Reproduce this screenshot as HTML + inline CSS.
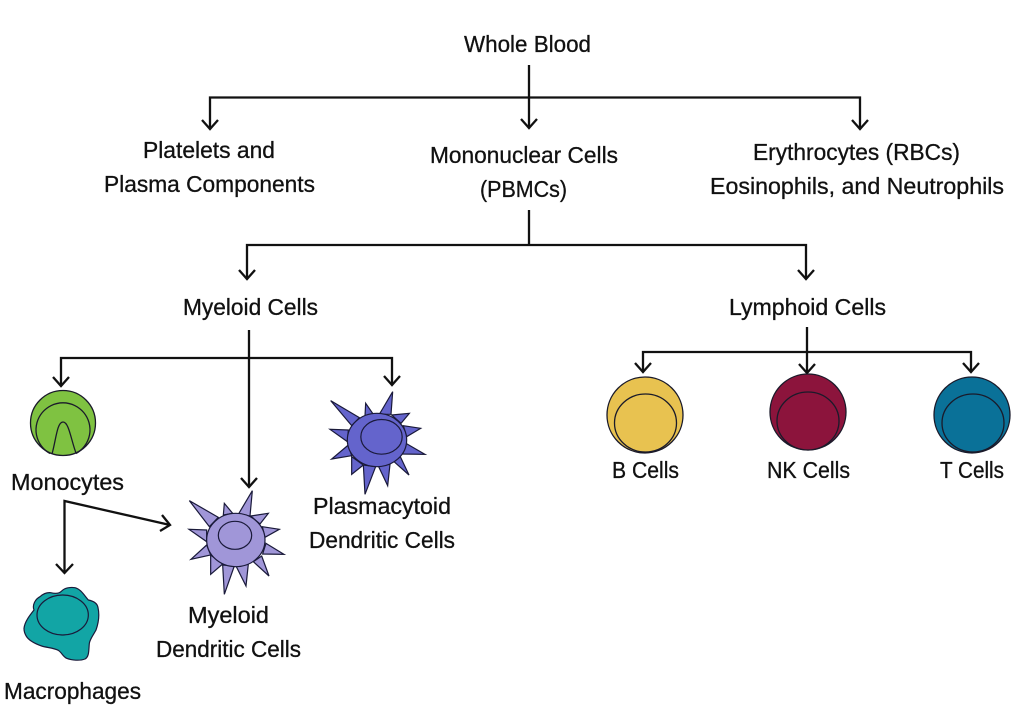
<!DOCTYPE html>
<html><head><meta charset="utf-8"><style>
html,body{margin:0;padding:0;background:#fff}
svg{display:block}
text{font-family:"Liberation Sans",sans-serif;font-size:23px;fill:#111;stroke:#111;stroke-width:.3}
.l{fill:none;stroke:#111;stroke-width:2.300}
.c{stroke:#1a1a2a;stroke-width:1.300}
.z{stroke:#1a1a3a;stroke-width:3.600;stroke-linejoin:miter}
</style></head><body>
<svg width="1024" height="724" viewBox="0 0 1024 724" xmlns="http://www.w3.org/2000/svg">
<g class="l">
<path d="M529 65V128M210 129V97.500H860V129M529 210V245M247 279V245H806V279M249 330V487M61 386V358H392V385M807 327V373M643 372V352H971V372M64.500 573V501L170 525"/>
<path d="M202 120L210 129L218 120M521 119L529 128L537 119M852 120L860 129L868 120M239 270L247 279L255 270M798 270L806 279L814 270M241 478L249 487L257 478M53 377L61 386L69 377M384 376L392 385L400 376M635 363L643 372L651 363M799 364L807 373L815 364M963 363L971 372L979 363M56 564L64.500 573L73 564M162 515L170 525L160 531"/>
</g>
<circle class="c" cx="63" cy="423" r="32.500" fill="#7fc241"/>
<path class="c" fill="none" d="M50 453.500A27 27 0 1 1 76 453.500M52 454C56 440 57 422 63 422C69 422 71 440 76 453"/>
<g transform="translate(10 575) scale(.33333)">
<path class="z" fill="#12a5a5" d="M42 160C44 140 60 120 72 105C66 90 76 72 90 65C100 56 110 52 122 53C135 56 148 56 155 48C165 38 182 36 195 38C212 42 222 60 235 75C250 78 262 84 264 98C270 125 264 148 258 165C250 180 240 192 238 205C236 225 238 245 225 252C210 258 185 256 170 250C158 244 155 232 145 226C130 218 110 218 95 213C75 206 55 195 48 182C44 175 42 168 42 160Z"/>
<ellipse class="z" cx="158" cy="120" rx="77" ry="60" fill="#12a5a5"/>
</g>
<g transform="translate(180 480) scale(.33333)">
<path class="z" fill="#a096d8" d="M175 103L217 32L210 108ZM130 105L133 70L158 100ZM88 140L28 62L115 112ZM212 108L265 100L240 132ZM247 140L298 148L255 172ZM258 190L312 223L248 222ZM245 228L267 288L220 245ZM168 258L198 318L205 252ZM128 255L133 343L163 258ZM92 225L92 283L128 252ZM80 195L33 238L92 225ZM80 150L27 148L80 185Z"/>
<ellipse class="z" cx="167.500" cy="180" rx="87.500" ry="80" fill="#a096d8"/>
<ellipse class="z" cx="165" cy="166" rx="50" ry="42" fill="#a096d8"/>
</g>
<g transform="translate(320 385) scale(.33333)">
<path class="z" fill="#6464cc" d="M178 88L218 20L213 88ZM135 93L137 55L160 88ZM95 122L32 47L118 98ZM215 90L268 85L243 115ZM250 122L302 130L260 155ZM258 175L315 208L245 207ZM240 213L267 270L222 230ZM175 243L203 302L210 238ZM130 240L135 328L167 245ZM95 215L95 268L130 240ZM85 180L35 222L95 212ZM85 135L30 133L82 170Z"/>
<ellipse class="z" cx="171" cy="165" rx="89" ry="80" fill="#6464cc"/>
<ellipse class="z" cx="184.500" cy="155.500" rx="62" ry="52" fill="#6464cc"/>
</g>
<circle class="c" cx="645" cy="415" r="38" fill="#e8c250"/>
<ellipse class="c" cx="645.500" cy="423" rx="31" ry="29" fill="#e8c250"/>
<circle class="c" cx="808" cy="412" r="38" fill="#8c143c"/>
<ellipse class="c" cx="808" cy="421" rx="31" ry="29" fill="#8c143c"/>
<circle class="c" cx="972" cy="415" r="38" fill="#0a7198"/>
<ellipse class="c" cx="973" cy="423" rx="31" ry="29" fill="#0a7198"/>
<g>
<text x="464" y="52" textLength="127" lengthAdjust="spacingAndGlyphs">Whole Blood</text>
<text x="143" y="158" textLength="132" lengthAdjust="spacingAndGlyphs">Platelets and</text>
<text x="104" y="192" textLength="211" lengthAdjust="spacingAndGlyphs">Plasma Components</text>
<text x="430" y="163" textLength="188" lengthAdjust="spacingAndGlyphs">Mononuclear Cells</text>
<text x="480" y="197" textLength="87" lengthAdjust="spacingAndGlyphs">(PBMCs)</text>
<text x="753" y="160" textLength="207" lengthAdjust="spacingAndGlyphs">Erythrocytes (RBCs)</text>
<text x="710" y="194" textLength="294" lengthAdjust="spacingAndGlyphs">Eosinophils, and Neutrophils</text>
<text x="183" y="315" textLength="135" lengthAdjust="spacingAndGlyphs">Myeloid Cells</text>
<text x="729" y="315" textLength="157" lengthAdjust="spacingAndGlyphs">Lymphoid Cells</text>
<text x="612" y="478" textLength="67" lengthAdjust="spacingAndGlyphs">B Cells</text>
<text x="767" y="478" textLength="83" lengthAdjust="spacingAndGlyphs">NK Cells</text>
<text x="940" y="478" textLength="64" lengthAdjust="spacingAndGlyphs">T Cells</text>
<text x="11" y="490" textLength="113" lengthAdjust="spacingAndGlyphs">Monocytes</text>
<text x="313" y="514" textLength="138" lengthAdjust="spacingAndGlyphs">Plasmacytoid</text>
<text x="309" y="548" textLength="146" lengthAdjust="spacingAndGlyphs">Dendritic Cells</text>
<text x="188" y="623" textLength="81" lengthAdjust="spacingAndGlyphs">Myeloid</text>
<text x="156" y="657" textLength="145" lengthAdjust="spacingAndGlyphs">Dendritic Cells</text>
<text x="4" y="699" textLength="137" lengthAdjust="spacingAndGlyphs">Macrophages</text>
</g>
</svg>
</body></html>
